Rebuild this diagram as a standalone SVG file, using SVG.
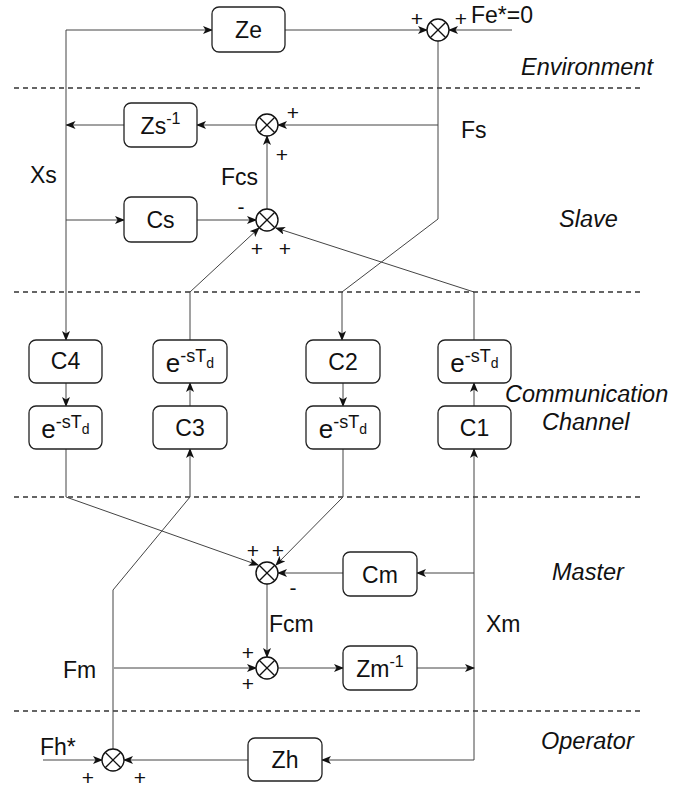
<svg xmlns="http://www.w3.org/2000/svg" width="699" height="788" viewBox="0 0 699 788">
<style>
.box{fill:#fff;stroke:#222;stroke-width:1.3}
.sum{fill:#fff;stroke:#111;stroke-width:1.4}
.x{stroke:#111;stroke-width:1.3}
.ln{fill:none;stroke:#444;stroke-width:1}
.arr{marker-end:url(#a)}
.dash{stroke:#333;stroke-width:1.3;stroke-dasharray:5 4}
text{font-family:"Liberation Sans",Arial,sans-serif;fill:#111}
.t{font-size:23px;text-anchor:middle}
.lb{font-size:23px}
.rg{font-size:23.5px;font-style:italic}
.s{font-size:21px;text-anchor:middle}
</style>
<defs>
<marker id="a" viewBox="0 0 10 8" refX="9" refY="4" markerWidth="10" markerHeight="8" markerUnits="userSpaceOnUse" orient="auto">
<path d="M0,0 L10,4 L0,8 L2.5,4 Z" fill="#111"/>
</marker>
<g id="sx"><circle class="sum" r="11"/><line class="x" x1="-7.8" y1="-7.8" x2="7.8" y2="7.8"/><line class="x" x1="-7.8" y1="7.8" x2="7.8" y2="-7.8"/></g>
</defs>
<rect width="699" height="788" fill="#fff"/>
<g id="separators">
<line class="dash" x1="14" y1="88" x2="642" y2="88"/>
<line class="dash" x1="14" y1="292" x2="642" y2="292"/>
<line class="dash" x1="14" y1="497" x2="642" y2="497"/>
<line class="dash" x1="14" y1="711" x2="642" y2="711"/>
</g>
<g id="connectors">
<path class="ln arr" d="M66,125 L66,340"/>
<path class="ln" d="M66,125 L66,30"/>
<path class="ln arr" d="M66,30 L212,30"/>
<path class="ln arr" d="M66,220 L124,220"/>
<path class="ln arr" d="M124,125 L66.5,125"/>
<path class="ln arr" d="M285,30 L427,30"/>
<path class="ln arr" d="M512,30 L449,30"/>
<path class="ln arr" d="M438,41 L438,219 L342,292 L342,340"/>
<path class="ln arr" d="M438,125 L278,125"/>
<path class="ln arr" d="M256,125 L197,125"/>
<path class="ln arr" d="M197,220 L256,220"/>
<path class="ln arr" d="M267,209 L267,136"/>
<path class="ln arr" d="M190,340 L190,292 L259,228"/>
<path class="ln arr" d="M474,340 L474,292 L276,228"/>
<path class="ln arr" d="M66,383 L66,406"/>
<path class="ln arr" d="M343,383 L343,406"/>
<path class="ln arr" d="M190,406 L190,383"/>
<path class="ln arr" d="M474,406 L474,383"/>
<path class="ln arr" d="M66,449 L66,497 L258,565"/>
<path class="ln arr" d="M343,449 L343,497 L276,565"/>
<path class="ln arr" d="M343,573 L278,573"/>
<path class="ln arr" d="M474,760 L474,449"/>
<path class="ln arr" d="M474,573 L417,573"/>
<path class="ln arr" d="M417,668 L474,668"/>
<path class="ln arr" d="M474,760 L322,760"/>
<path class="ln arr" d="M267,584 L267,657"/>
<path class="ln arr" d="M114,668 L256,668"/>
<path class="ln arr" d="M278,668 L343,668"/>
<path class="ln arr" d="M248,760 L124,760"/>
<path class="ln arr" d="M43,760 L102,760"/>
<path class="ln arr" d="M113,749 L113,590 L190,497 L190,449"/>
</g>
<g id="Ze"><rect class="box" x="212" y="7" width="73" height="45" rx="7"/><text class="t" x="248.5" y="38">Ze</text></g>
<g id="Zs"><rect class="box" x="124" y="103" width="73" height="44" rx="7"/><text class="t" x="160.5" y="134">Zs<tspan font-size="16" dy="-10">-1</tspan></text></g>
<g id="Cs"><rect class="box" x="124" y="197" width="73" height="45" rx="7"/><text class="t" x="160.5" y="228">Cs</text></g>
<g id="C4"><rect class="box" x="29" y="340" width="73" height="43" rx="7"/><text class="t" x="65.5" y="369">C4</text></g>
<g id="D1"><rect class="box" x="29" y="406" width="73" height="43" rx="7"/><text class="t" x="65.5" y="438"><tspan font-size="26">e</tspan><tspan font-size="18" dy="-10">-sT</tspan><tspan font-size="14" dy="6">d</tspan></text></g>
<g id="D2"><rect class="box" x="153" y="340" width="74" height="43" rx="7"/><text class="t" x="190" y="372"><tspan font-size="26">e</tspan><tspan font-size="18" dy="-10">-sT</tspan><tspan font-size="14" dy="6">d</tspan></text></g>
<g id="C3"><rect class="box" x="153" y="406" width="74" height="43" rx="7"/><text class="t" x="190" y="436">C3</text></g>
<g id="C2"><rect class="box" x="306" y="340" width="74" height="43" rx="7"/><text class="t" x="343" y="370">C2</text></g>
<g id="D3"><rect class="box" x="306" y="406" width="74" height="43" rx="7"/><text class="t" x="343" y="438"><tspan font-size="26">e</tspan><tspan font-size="18" dy="-10">-sT</tspan><tspan font-size="14" dy="6">d</tspan></text></g>
<g id="D4"><rect class="box" x="438" y="340" width="73" height="43" rx="7"/><text class="t" x="474.5" y="372"><tspan font-size="26">e</tspan><tspan font-size="18" dy="-10">-sT</tspan><tspan font-size="14" dy="6">d</tspan></text></g>
<g id="C1"><rect class="box" x="438" y="406" width="73" height="43" rx="7"/><text class="t" x="474.5" y="436">C1</text></g>
<g id="Cm"><rect class="box" x="343" y="552" width="74" height="44" rx="7"/><text class="t" x="380" y="583">Cm</text></g>
<g id="Zm"><rect class="box" x="343" y="646" width="74" height="44" rx="7"/><text class="t" x="380" y="677">Zm<tspan font-size="16" dy="-10">-1</tspan></text></g>
<g id="Zh"><rect class="box" x="248" y="738" width="74" height="43" rx="7"/><text class="t" x="285" y="768">Zh</text></g>
<g id="S_env"><use href="#sx" x="438" y="30"/><text class="s" x="417" y="26">+</text><text class="s" x="461" y="26">+</text></g>
<g id="S_s1"><use href="#sx" x="267" y="125"/><text class="s" x="293" y="120">+</text><text class="s" x="282" y="162">+</text></g>
<g id="S_s2"><use href="#sx" x="267" y="220"/><text class="s" x="241" y="214">-</text><text class="s" x="257" y="256">+</text><text class="s" x="285" y="256">+</text></g>
<g id="S_m1"><use href="#sx" x="267" y="573"/><text class="s" x="253" y="558">+</text><text class="s" x="278" y="558">+</text><text class="s" x="293" y="595">-</text></g>
<g id="S_m2"><use href="#sx" x="267" y="668"/><text class="s" x="248" y="660">+</text><text class="s" x="248" y="691">+</text></g>
<g id="S_op"><use href="#sx" x="113" y="760"/><text class="s" x="88" y="785">+</text><text class="s" x="140" y="785">+</text></g>
<g id="labels">
<text class="lb" x="471" y="23">Fe*=0</text>
<text class="lb" x="461" y="138">Fs</text>
<text class="lb" x="30" y="183">Xs</text>
<text class="lb" x="221" y="185">Fcs</text>
<text class="lb" x="269" y="632">Fcm</text>
<text class="lb" x="63" y="678">Fm</text>
<text class="lb" x="486" y="632">Xm</text>
<text class="lb" x="40" y="755">Fh*</text>
<text class="rg" x="521" y="75">Environment</text>
<text class="rg" x="559" y="227">Slave</text>
<text class="rg" x="505" y="402">Communication</text>
<text class="rg" x="542" y="430">Channel</text>
<text class="rg" x="552" y="580">Master</text>
<text class="rg" x="541" y="749">Operator</text>
</g>
</svg>
